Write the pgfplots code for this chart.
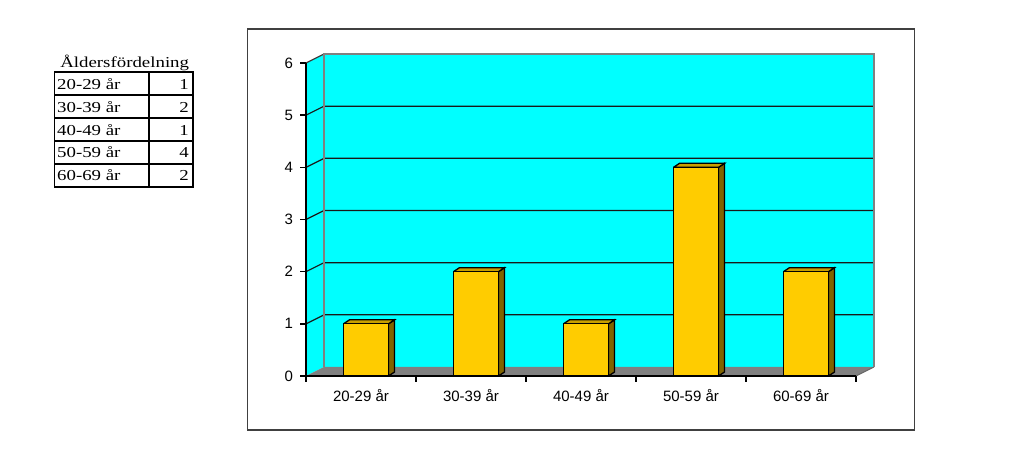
\documentclass[border=0pt]{standalone}
\usepackage{pgfplots}
\pgfplotsset{compat=1.18}
\usepackage{fontspec}
\setmainfont{Liberation Sans}
\newfontfamily\tabfont{Liberation Serif}[FakeStretch=1.24]
\definecolor{wall}{HTML}{00FFFF}
\definecolor{floorc}{HTML}{808080}
\definecolor{bargold}{HTML}{FFCC00}
\definecolor{bartop}{HTML}{C89F00}
\definecolor{barside}{HTML}{806400}
\begin{document}
\begin{tikzpicture}
\useasboundingbox (0,0) rectangle (512pt,230.5pt);
% ---- table ----
\begin{scope}[line width=0.85pt]
\draw (27.2pt,137.15pt) rectangle (96.35pt,194.35pt);
\draw (74.35pt,137.15pt) -- (74.35pt,194.35pt);
\foreach \k in {1,2,3,4} \draw (27.2pt,{194.35pt-\k*11.44pt}) -- (96.35pt,{194.35pt-\k*11.44pt});
\end{scope}
\begin{scope}[every node/.style={inner sep=0pt, font=\tabfont\fontsize{7.6}{8}\selectfont}]
\node[anchor=base] at (62.35pt,196.85pt) {Åldersfördelning};
\node[anchor=base west] at (28.4pt,185.85pt) {20-29 år};
\node[anchor=base west] at (28.4pt,174.41pt) {30-39 år};
\node[anchor=base west] at (28.4pt,162.97pt) {40-49 år};
\node[anchor=base west] at (28.4pt,151.53pt) {50-59 år};
\node[anchor=base west] at (28.4pt,140.09pt) {60-69 år};
\node[anchor=base east] at (94.6pt,185.85pt) {1};
\node[anchor=base east] at (94.6pt,174.41pt) {2};
\node[anchor=base east] at (94.6pt,162.97pt) {1};
\node[anchor=base east] at (94.6pt,151.53pt) {4};
\node[anchor=base east] at (94.6pt,140.09pt) {2};
\end{scope}
% ---- chart frame ----
\draw[black!75, line width=0.8pt] (123.65pt,15.5pt) rectangle (457.15pt,216pt);
\begin{axis}[
  at={(153pt,42.5pt)}, anchor=south west,
  scale only axis, width=275pt, height=156.5pt,
  xmin=0, xmax=5, ymin=0, ymax=6,
  clip=false, axis on top,
  axis x line*=bottom, axis y line*=left,
  axis line style={black, line width=0.7pt},
  tick style={black, line width=0.7pt},
  tick align=outside, major tick length=3pt,
  xtick={0,1,2,3,4,5},
  xticklabels={20-29 år,30-39 år,40-49 år,50-59 år,60-69 år,{}},
  xticklabel style={xshift=27.5pt},
  ytick={0,1,2,3,4,5,6},
  ticklabel style={font=\fontsize{7.5}{8}\selectfont},
  /pgf/number format/assume math mode=true,
]
% side wall and back wall
\fill[wall] (0,0) -- ++(9pt,4.5pt) -- ([shift={(9pt,4.5pt)}]0,6) -- (0,6) -- cycle;
\fill[wall] ([shift={(9pt,4.5pt)}]0,0) rectangle ([shift={(9pt,4.5pt)}]5,6);
% floor
\fill[floorc] (0,0) -- (5,0) -- ([shift={(9pt,4.5pt)}]5,0) -- ([shift={(9pt,4.5pt)}]0,0) -- cycle;
\draw[black!60, line width=0.5pt] (5,0) -- ([shift={(9pt,4.5pt)}]5,0);
% gridlines
\pgfplotsinvokeforeach{1,2,3,4,5}{
  \draw[black!90, line width=0.6pt] (0,#1) -- ++(9pt,4.5pt) -- ([shift={(9pt,4.5pt)}]5,#1);
}
\draw[black!75, line width=0.6pt] (0,6) -- ++(9pt,4.5pt);
\draw[black!50, line width=0.7pt] ([shift={(9pt,4.5pt)}]0,0) -- ([shift={(9pt,4.5pt)}]0,6) -- ([shift={(9pt,4.5pt)}]5,6) -- ([shift={(9pt,4.5pt)}]5,0);
% bar sides
\addplot[fill=barside, draw=black, line width=0.65pt] coordinates {(0.750,0)(0.750,1)(0.805,1.077)(0.805,0.077)(0.750,0)};
\addplot[fill=barside, draw=black, line width=0.65pt] coordinates {(1.750,0)(1.750,2)(1.805,2.077)(1.805,0.077)(1.750,0)};
\addplot[fill=barside, draw=black, line width=0.65pt] coordinates {(2.750,0)(2.750,1)(2.805,1.077)(2.805,0.077)(2.750,0)};
\addplot[fill=barside, draw=black, line width=0.65pt] coordinates {(3.750,0)(3.750,4)(3.805,4.077)(3.805,0.077)(3.750,0)};
\addplot[fill=barside, draw=black, line width=0.65pt] coordinates {(4.750,0)(4.750,2)(4.805,2.077)(4.805,0.077)(4.750,0)};
% bar tops
\addplot[fill=bartop, draw=black, line width=0.65pt] coordinates {(0.341,1)(0.750,1)(0.805,1.077)(0.396,1.077)(0.341,1)};
\addplot[fill=bartop, draw=black, line width=0.65pt] coordinates {(1.341,2)(1.750,2)(1.805,2.077)(1.396,2.077)(1.341,2)};
\addplot[fill=bartop, draw=black, line width=0.65pt] coordinates {(2.341,1)(2.750,1)(2.805,1.077)(2.396,1.077)(2.341,1)};
\addplot[fill=bartop, draw=black, line width=0.65pt] coordinates {(3.341,4)(3.750,4)(3.805,4.077)(3.396,4.077)(3.341,4)};
\addplot[fill=bartop, draw=black, line width=0.65pt] coordinates {(4.341,2)(4.750,2)(4.805,2.077)(4.396,2.077)(4.341,2)};
% bar fronts
\addplot[ybar, bar width=0.409, bar shift=0.0455, fill=bargold, draw=black, line width=0.65pt]
  coordinates {(0.5,1)(1.5,2)(2.5,1)(3.5,4)(4.5,2)};
\end{axis}
\end{tikzpicture}
\end{document}
